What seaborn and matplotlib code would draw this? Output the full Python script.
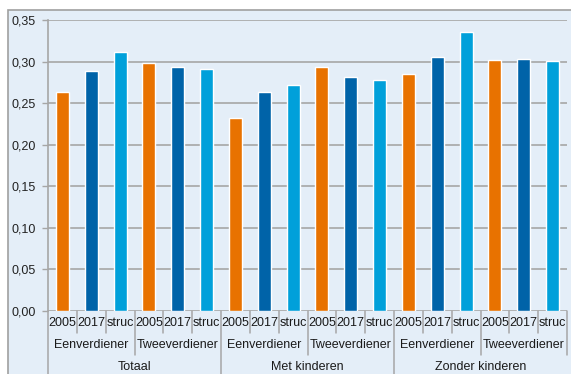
import matplotlib
matplotlib.use("Agg")
import matplotlib.pyplot as plt
import matplotlib.transforms as mtransforms
from matplotlib.patches import Rectangle
from matplotlib.ticker import FuncFormatter
import seaborn as sns
import pandas as pd

# ---- data ----
top_groups = ["Totaal", "Met kinderen", "Zonder kinderen"]
sub_groups = ["Eenverdiener", "Tweeverdiener"]
kinds = ["2005", "2017", "struc"]
values = [0.264, 0.289, 0.311, 0.298, 0.293, 0.291,
          0.232, 0.263, 0.272, 0.293, 0.281, 0.278,
          0.285, 0.306, 0.335, 0.302, 0.303, 0.301]
colors = {"2005": "#E87200", "2017": "#0063A8", "struc": "#00A0DA"}

rows = []
i = 0
for tg in top_groups:
    for sg in sub_groups:
        for k in kinds:
            rows.append({"slot": i, "value": values[i], "kind": k, "sub": sg, "top": tg})
            i += 1
df = pd.DataFrame(rows)

# ---- figure ----
sns.set_theme(style="white")
plt.rcParams["font.family"] = ["Liberation Sans", "DejaVu Sans"]
bg = "#E4EEF8"
grid_c = "#A6A6A6"
fs = 9

fig = plt.figure(figsize=(5.71, 3.74), dpi=100)
fig.patch.set_facecolor("white")
frame = Rectangle((8 / 571, -0.1), 1.2, 1 - 10 / 374 + 0.1,
                  transform=fig.transFigure, facecolor=bg,
                  edgecolor="#A0A0A0", linewidth=1.2, zorder=-10)
fig.patches.append(frame)

ax = fig.add_axes([48 / 571, 1 - 311 / 374, (567 - 48) / 571, (311 - 20) / 374])
ax.set_facecolor(bg)
ax.set_zorder(1)

sns.barplot(data=df, x="slot", y="value", hue="kind", palette=colors,
            dodge=False, width=0.45, ax=ax, legend=False, saturation=1,
            order=list(range(len(values))))

ax.set_xlim(-0.5, len(values) - 0.5)
ax.set_ylim(0, 0.35)
ax.set_yticks([0.0, 0.05, 0.10, 0.15, 0.20, 0.25, 0.30, 0.35])
ax.yaxis.set_major_formatter(FuncFormatter(lambda v, p: f"{v:.2f}".replace(".", ",")))
ax.yaxis.grid(True, color=grid_c, linewidth=1.2)
ax.set_axisbelow(True)
ax.tick_params(axis="y", labelsize=fs, colors="#222222", length=4, width=1,
               direction="out", pad=5, left=True, color=grid_c)
ax.set_xticks([])
ax.set_xlabel("")
ax.set_ylabel("")
for s in ["top", "right", "bottom"]:
    ax.spines[s].set_visible(False)
ax.spines["left"].set_color(grid_c)
ax.spines["left"].set_linewidth(1.2)

# ---- multi-level category axis ----
trans = mtransforms.blended_transform_factory(ax.transData, fig.transFigure)

def fy(py):
    return 1 - py / 374

tc = "#1a1a1a"
n = len(values)
for _, r in df.iterrows():
    ax.text(r["slot"], fy(323), r["kind"], transform=trans, ha="center",
            va="center", fontsize=fs, color=tc, clip_on=False)
ns = len(kinds)
for j in range(n // ns):
    ax.text(j * ns + (ns - 1) / 2, fy(345), df["sub"].iloc[j * ns], transform=trans,
            ha="center", va="center", fontsize=fs, color=tc, clip_on=False)
nt = len(kinds) * len(sub_groups)
for j, tg in enumerate(top_groups):
    ax.text(j * nt + (nt - 1) / 2, fy(367), tg, transform=trans,
            ha="center", va="center", fontsize=fs, color=tc, clip_on=False)

for b in range(n + 1):
    xb = b - 0.5
    if b == 0 or (b % nt == 0 and b < n):
        bottom = fy(380)
    elif b % ns == 0:
        bottom = fy(355)
    else:
        bottom = fy(333)
    if b == n:
        bottom = fy(355)
    ax.plot([xb, xb], [fy(311), bottom], transform=trans, color=grid_c,
            linewidth=1.1, clip_on=False)

fig.savefig("out.png", dpi=100, facecolor=fig.get_facecolor())
